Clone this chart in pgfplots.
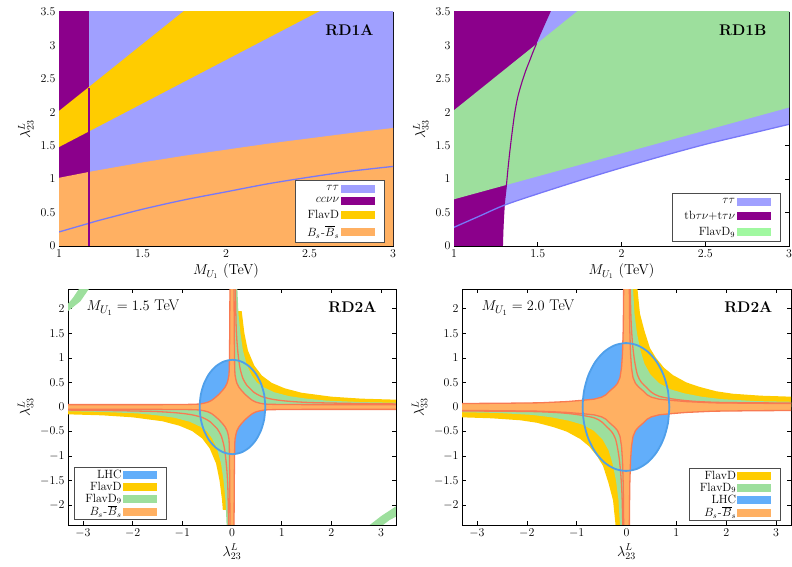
\documentclass[border=0pt]{standalone}
\usepackage{pgfplots}
\pgfplotsset{compat=1.18}
\definecolor{ttblue}{HTML}{A0A0FF}
\definecolor{ttline}{HTML}{7878F8}
\definecolor{ccpurple}{HTML}{8B008B}
\definecolor{flavd}{HTML}{FFCC00}
\definecolor{bsorange}{HTML}{FFB062}
\definecolor{bsline}{HTML}{F87A52}
\definecolor{greennine}{HTML}{9DDF9D}
\definecolor{greenleg}{HTML}{A0F8A0}
\definecolor{lhcblue}{HTML}{62AEFA}
\definecolor{lhcline}{HTML}{4F9FEA}
\newcommand{\legbox}[1]{\addlegendimage{legend image code/.code={\fill[#1] (0bp,-3.5bp) rectangle (33bp,3.5bp);}}}
\newcommand{\BsBs}{$B_s$\kern0.6pt-\kern0.3pt$\overline{B}_s$}
\pgfplotsset{
  panel/.style={scale only axis, anchor=south west, tick align=inside,
    major tick length=4bp, axis line style={line width=0.7bp},
    every tick/.append style={line width=0.6bp, black},
    tick label style={font=\fontsize{13}{15}\selectfont},
    label style={font=\fontsize{14.5}{17}\selectfont},
    legend plot pos=right, legend cell align=right,
    legend style={draw=black!70, line width=0.6bp, font=\fontsize{12}{13}\selectfont,
      fill=white, inner xsep=10bp, inner ysep=3bp, row sep=2bp}},
  smalleg/.style={legend style={row sep=0bp, inner ysep=1.5bp, inner xsep=10bp,
      nodes={inner sep=1bp, text depth=0.15em}, font=\fontsize{12}{12}\selectfont}},
}
\begin{document}
\begin{tikzpicture}
\useasboundingbox (0,0) rectangle (792bp,567bp);
% ---------------- top left RD1A
\begin{axis}[panel, at={(59bp,321bp)}, width=334bp, height=234bp,
  xmin=1, xmax=3, ymin=0, ymax=3.5,
  xtick={1,1.5,2,2.5,3}, ytick={0,0.5,1,1.5,2,2.5,3,3.5},
  xlabel={$M_{U_1}$ (TeV)}, ylabel={$\lambda^L_{23}$},
  legend style={at={(1,0)}, anchor=south east, xshift=-8bp, yshift=3bp}]
\addplot[draw=none, fill=ttblue, forget plot] coordinates {(0.9,-0.1) (3.1,-0.1) (3.1,3.6) (0.9,3.6)};
\addplot[draw=none, fill=ccpurple, forget plot] coordinates {(0.9,-0.1) (1.18,-0.1) (1.18,3.6) (0.9,3.6)};
\addplot[draw=none, fill=flavd, forget plot] coordinates {(0.9,1.35) (1,1.48) (2.55,3.5) (2.627,3.6) (1.79,3.6) (1.74,3.5) (1,2.02) (0.9,1.82)};
\addplot[draw=none, fill=bsorange, forget plot] coordinates {(0.9,-0.1) (0.9,0.97) (1,1.02) (1.18,1.108) (1.25,1.14) (1.5,1.25) (1.75,1.35) (2,1.44) (2.25,1.53) (2.5,1.61) (2.75,1.69) (3,1.765) (3.1,1.79) (3.1,-0.1)};
\addplot[ttline, line width=1.3bp, smooth, forget plot] coordinates {(1,0.21) (1.18,0.34) (1.25,0.39) (1.5,0.55) (1.75,0.69) (2,0.81) (2.25,0.93) (2.5,1.03) (2.75,1.12) (3,1.19)};
\addplot[ccpurple, line width=1.2bp, forget plot] coordinates {(1.18,-0.1) (1.18,2.37)};
\legbox{ttblue}\addlegendentry{$\tau\tau$}
\legbox{ccpurple}\addlegendentry{$cc\nu\nu$}
\legbox{flavd}\addlegendentry{FlavD}
\legbox{bsorange}\addlegendentry{\BsBs}
\node[anchor=base east, font=\bfseries\fontsize{15.5}{17}\selectfont] at (rel axis cs:0.952,0.90) {RD1A};
\end{axis}
% ---------------- top right RD1B
\begin{axis}[panel, at={(454bp,321bp)}, width=335bp, height=234bp,
  xmin=1, xmax=3, ymin=0, ymax=3.5,
  xtick={1,1.5,2,2.5,3}, ytick={0,0.5,1,1.5,2,2.5,3,3.5},
  xlabel={$M_{U_1}$ (TeV)}, ylabel={$\lambda^L_{33}$},
  legend style={at={(1,0)}, anchor=south east, xshift=-8bp, yshift=4bp}]
\addplot[draw=none, fill=ttblue, forget plot] coordinates {(0.9,0.17) (1,0.28) (1.15,0.445) (1.3,0.61) (1.5,0.78) (1.75,0.98) (2,1.17) (2.25,1.35) (2.5,1.52) (2.75,1.67) (3,1.82) (3.1,1.88) (3.1,3.6) (0.9,3.6)};
\addplot[draw=none, fill=ccpurple, forget plot] coordinates {(0.9,-0.1) (1.288,-0.1) (1.289,0) (1.293,0.3) (1.30,0.61) (1.306,0.76) (1.313,0.91) (1.322,1.15) (1.334,1.43) (1.347,1.7) (1.362,1.98) (1.38,2.22) (1.403,2.43) (1.428,2.62) (1.453,2.78) (1.473,2.91) (1.493,3.03) (1.535,3.27) (1.576,3.5) (1.595,3.6) (0.9,3.6)};
\addplot[draw=none, fill=greennine, forget plot] coordinates {(0.9,0.63) (3.1,2.14) (3.1,3.6) (1.78,3.6) (0.9,1.83)};
\addplot[ccpurple, line width=1.1bp, smooth, forget plot] coordinates {(1.288,-0.1) (1.289,0) (1.293,0.3) (1.30,0.61) (1.306,0.76) (1.313,0.91) (1.322,1.15) (1.334,1.43) (1.347,1.7) (1.362,1.98) (1.38,2.22) (1.403,2.43) (1.428,2.62) (1.453,2.78) (1.473,2.91) (1.493,3.03)};
\addplot[ttline, line width=1.3bp, smooth, forget plot] coordinates {(1,0.28) (1.15,0.445) (1.3,0.61) (1.5,0.78) (1.75,0.98) (2,1.17) (2.25,1.35) (2.5,1.52) (2.75,1.67) (3,1.82)};
\legbox{ttblue}\addlegendentry{$\tau\tau$}
\legbox{ccpurple}\addlegendentry{tb$\tau\nu$+t$\tau\nu$}
\legbox{greenleg}\addlegendentry{FlavD$_9$}
\node[anchor=base east, font=\bfseries\fontsize{15.5}{17}\selectfont] at (rel axis cs:0.943,0.90) {RD1B};
\end{axis}
% ---------------- bottom left RD2A, M=1.5
\begin{axis}[panel, smalleg, at={(68bp,42bp)}, width=328bp, height=236bp,
  xmin=-3.3, xmax=3.3, ymin=-2.4, ymax=2.4,
  xtick={-3,-2,-1,0,1,2,3}, ytick={-2,-1.5,-1,-0.5,0,0.5,1,1.5,2},
  xlabel={$\lambda^L_{23}$}, ylabel={$\lambda^L_{33}$},
  legend style={at={(0,0)}, anchor=south west, xshift=6bp, yshift=5bp}]
\addplot[draw=none, fill=lhcblue, forget plot] coordinates {(0.67,0) (0.648,0.248) (0.582,0.48) (0.477,0.679) (0.34,0.831) (0.181,0.927) (0.01,0.96) (-0.161,0.927) (-0.32,0.831) (-0.457,0.679) (-0.562,0.48) (-0.628,0.248) (-0.65,0) (-0.628,-0.248) (-0.562,-0.48) (-0.457,-0.679) (-0.32,-0.831) (-0.161,-0.927) (0.01,-0.96) (0.181,-0.927) (0.34,-0.831) (0.477,-0.679) (0.582,-0.48) (0.648,-0.248) (0.67,0)};
\addplot[draw=none, fill=flavd, forget plot] coordinates {(0,0) (0,1.95) (0.195,1.95) (0.25,1.5) (0.32,1.15) (0.45,0.84) (0.6,0.64) (0.8,0.49) (1.06,0.38) (1.4,0.29) (2.0,0.21) (2.6,0.17) (3.6,0.14) (3.6,0)};
\addplot[draw=none, fill=flavd, forget plot] coordinates {(0,0) (0,-2.09) (-0.185,-2.09) (-0.2,-1.9) (-0.25,-1.5) (-0.32,-1.15) (-0.45,-0.84) (-0.6,-0.64) (-0.8,-0.49) (-1.06,-0.38) (-1.4,-0.29) (-2.0,-0.21) (-2.6,-0.17) (-3.6,-0.14) (-3.6,0)};
\addplot[draw=none, fill=greennine, forget plot] coordinates {(0,0) (0,2.6) (0.1,2.6) (0.13,1.9) (0.17,1.5) (0.22,1.15) (0.3,0.85) (0.4,0.64) (0.5,0.5) (0.64,0.4) (0.85,0.3) (1.15,0.22) (1.5,0.17) (1.9,0.13) (2.6,0.1) (3.6,0.08) (3.6,0)};
\addplot[draw=none, fill=greennine, forget plot] coordinates {(0,0) (0,-2.6) (-0.1,-2.6) (-0.13,-1.9) (-0.17,-1.5) (-0.22,-1.15) (-0.3,-0.85) (-0.4,-0.64) (-0.5,-0.5) (-0.64,-0.4) (-0.85,-0.3) (-1.15,-0.22) (-1.5,-0.17) (-1.9,-0.13) (-2.6,-0.1) (-3.6,-0.08) (-3.6,0)};
\addplot[draw=none, fill=greennine, forget plot] coordinates {(-3.4,2.02) (-3.3,2.10) (-3.2,2.22) (-3.08,2.4) (-3.02,2.5) (-2.82,2.5) (-2.88,2.4) (-3.05,2.15) (-3.3,1.95) (-3.4,1.88)};
\addplot[draw=none, fill=greennine, forget plot] coordinates {(3.0,-2.5) (3.04,-2.4) (3.17,-2.3) (3.3,-2.23) (3.4,-2.18) (3.4,-1.97) (3.3,-2.02) (3.0,-2.22) (2.77,-2.4) (2.68,-2.5)};
\addplot[fill=bsorange, draw=bsline, line width=1.3bp, forget plot] coordinates {
(0.04,2.6) (0.045,1.6) (0.05,1.1) (0.054,0.8) (0.06,0.66) (0.08,0.55) (0.1,0.48) (0.135,0.41) (0.18,0.35) (0.26,0.26) (0.35,0.18) (0.41,0.135) (0.48,0.1) (0.55,0.08) (0.66,0.06) (0.8,0.054) (1.1,0.05) (1.6,0.048) (2.6,0.048) (3.6,0.048)
(3.6,-0.048) (2.6,-0.048) (1.6,-0.048) (1.1,-0.05) (0.8,-0.054) (0.66,-0.06) (0.55,-0.08) (0.48,-0.1) (0.41,-0.135) (0.35,-0.18) (0.26,-0.26) (0.18,-0.35) (0.135,-0.41) (0.1,-0.48) (0.08,-0.55) (0.06,-0.66) (0.054,-0.8) (0.05,-1.1) (0.045,-1.6) (0.04,-2.6)
(-0.04,-2.6) (-0.045,-1.6) (-0.05,-1.1) (-0.054,-0.8) (-0.06,-0.66) (-0.08,-0.55) (-0.1,-0.48) (-0.135,-0.41) (-0.18,-0.35) (-0.26,-0.26) (-0.35,-0.18) (-0.41,-0.135) (-0.48,-0.1) (-0.55,-0.08) (-0.66,-0.06) (-0.8,-0.054) (-1.1,-0.05) (-1.6,-0.048) (-2.6,-0.048) (-3.6,-0.048)
(-3.6,0.048) (-2.6,0.048) (-1.6,0.048) (-1.1,0.05) (-0.8,0.054) (-0.66,0.06) (-0.55,0.08) (-0.48,0.1) (-0.41,0.135) (-0.35,0.18) (-0.26,0.26) (-0.18,0.35) (-0.135,0.41) (-0.1,0.48) (-0.08,0.55) (-0.06,0.66) (-0.054,0.8) (-0.05,1.1) (-0.045,1.6) (-0.04,2.6)};
\addplot[draw=bsline, line width=1.3bp, smooth, forget plot] coordinates {(0.065,2.6) (0.085,1.6) (0.12,1.1) (0.16,0.8) (0.22,0.58) (0.3,0.44) (0.37,0.37) (0.44,0.3) (0.58,0.22) (0.8,0.16) (1.1,0.12) (1.6,0.09) (2.6,0.07) (3.6,0.06)};
\addplot[draw=bsline, line width=1.3bp, smooth, forget plot] coordinates {(-0.065,-2.6) (-0.085,-1.6) (-0.12,-1.1) (-0.16,-0.8) (-0.22,-0.58) (-0.3,-0.44) (-0.37,-0.37) (-0.44,-0.3) (-0.58,-0.22) (-0.8,-0.16) (-1.1,-0.12) (-1.6,-0.09) (-2.6,-0.07) (-3.6,-0.06)};
\addplot[draw=lhcline, line width=1.8bp, smooth, forget plot] coordinates {(0.67,0) (0.648,0.248) (0.582,0.48) (0.477,0.679) (0.34,0.831) (0.181,0.927) (0.01,0.96) (-0.161,0.927) (-0.32,0.831) (-0.457,0.679) (-0.562,0.48) (-0.628,0.248) (-0.65,0) (-0.628,-0.248) (-0.562,-0.48) (-0.457,-0.679) (-0.32,-0.831) (-0.161,-0.927) (0.01,-0.96) (0.181,-0.927) (0.34,-0.831) (0.477,-0.679) (0.582,-0.48) (0.648,-0.248) (0.67,0)};
\legbox{lhcblue}\addlegendentry{LHC}
\legbox{flavd}\addlegendentry{FlavD}
\legbox{greennine}\addlegendentry{FlavD$_9$}
\legbox{bsorange}\addlegendentry{\BsBs}
\node[anchor=base west, font=\fontsize{15.5}{17}\selectfont] at (rel axis cs:0.046,0.907) {$M_{U_1} = 1.5$ TeV};
\node[anchor=base east, font=\bfseries\fontsize{15.5}{17}\selectfont] at (rel axis cs:0.951,0.90) {RD2A};
\end{axis}
% ---------------- bottom right RD2A, M=2.0
\begin{axis}[panel, smalleg, at={(462bp,42bp)}, width=329bp, height=236bp,
  xmin=-3.3, xmax=3.3, ymin=-2.4, ymax=2.4,
  xtick={-3,-2,-1,0,1,2,3}, ytick={-2,-1.5,-1,-0.5,0,0.5,1,1.5,2},
  xlabel={$\lambda^L_{23}$}, ylabel={$\lambda^L_{33}$},
  legend style={at={(1,0)}, anchor=south east, xshift=-10bp, yshift=4bp}]
\addplot[draw=none, fill=lhcblue, forget plot] coordinates {(0.86,0) (0.83,0.337) (0.743,0.65) (0.605,0.919) (0.425,1.126) (0.215,1.256) (-0.01,1.3) (-0.235,1.256) (-0.445,1.126) (-0.625,0.919) (-0.763,0.65) (-0.85,0.337) (-0.88,0) (-0.85,-0.337) (-0.763,-0.65) (-0.625,-0.919) (-0.445,-1.126) (-0.235,-1.256) (-0.01,-1.3) (0.215,-1.256) (0.425,-1.126) (0.605,-0.919) (0.743,-0.65) (0.83,-0.337) (0.86,0)};
\addplot[draw=none, fill=flavd, forget plot] coordinates {(0,0) (0,2.6) (0.2,2.6) (0.27,1.9) (0.36,1.55) (0.47,1.2) (0.59,1.0) (0.75,0.8) (0.93,0.65) (1.2,0.5) (1.46,0.41) (1.8,0.32) (2.13,0.27) (2.7,0.23) (3.6,0.2) (3.6,0)};
\addplot[draw=none, fill=flavd, forget plot] coordinates {(0,0) (0,-2.6) (-0.2,-2.6) (-0.27,-1.9) (-0.36,-1.55) (-0.47,-1.2) (-0.59,-1.0) (-0.75,-0.8) (-0.93,-0.65) (-1.2,-0.5) (-1.46,-0.41) (-1.8,-0.32) (-2.13,-0.27) (-2.7,-0.23) (-3.6,-0.2) (-3.6,0)};
\addplot[draw=none, fill=greennine, forget plot] coordinates {(0,0) (0,2.6) (0.12,2.6) (0.16,1.9) (0.21,1.5) (0.28,1.15) (0.36,0.88) (0.48,0.66) (0.57,0.57) (0.66,0.48) (0.88,0.36) (1.15,0.28) (1.5,0.21) (1.9,0.16) (2.6,0.12) (3.6,0.1) (3.6,0)};
\addplot[draw=none, fill=greennine, forget plot] coordinates {(0,0) (0,-2.6) (-0.12,-2.6) (-0.16,-1.9) (-0.21,-1.5) (-0.28,-1.15) (-0.36,-0.88) (-0.48,-0.66) (-0.57,-0.57) (-0.66,-0.48) (-0.88,-0.36) (-1.15,-0.28) (-1.5,-0.21) (-1.9,-0.16) (-2.6,-0.12) (-3.6,-0.1) (-3.6,0)};
\addplot[fill=bsorange, draw=bsline, line width=1.3bp, forget plot] coordinates {
(0.055,2.6) (0.065,1.6) (0.08,1.1) (0.1,0.8) (0.13,0.6) (0.18,0.48) (0.24,0.41) (0.33,0.33) (0.41,0.25) (0.5,0.2) (0.65,0.16) (0.84,0.14) (1.2,0.11) (1.74,0.085) (2.6,0.075) (3.6,0.07)
(3.6,-0.07) (2.6,-0.075) (1.74,-0.085) (1.2,-0.11) (0.84,-0.14) (0.65,-0.16) (0.5,-0.2) (0.41,-0.25) (0.33,-0.33) (0.24,-0.41) (0.18,-0.48) (0.13,-0.6) (0.1,-0.8) (0.08,-1.1) (0.065,-1.6) (0.055,-2.6)
(-0.055,-2.6) (-0.065,-1.6) (-0.08,-1.1) (-0.1,-0.8) (-0.13,-0.6) (-0.18,-0.48) (-0.24,-0.41) (-0.33,-0.33) (-0.41,-0.25) (-0.5,-0.2) (-0.65,-0.16) (-0.84,-0.14) (-1.2,-0.11) (-1.74,-0.085) (-2.6,-0.075) (-3.6,-0.07)
(-3.6,0.07) (-2.6,0.075) (-1.74,0.085) (-1.2,0.11) (-0.84,0.14) (-0.65,0.16) (-0.5,0.2) (-0.41,0.25) (-0.33,0.33) (-0.24,0.41) (-0.18,0.48) (-0.13,0.6) (-0.1,0.8) (-0.08,1.1) (-0.065,1.6) (-0.055,2.6)};
\addplot[draw=bsline, line width=1.3bp, smooth, forget plot] coordinates {(0.07,2.6) (0.09,1.8) (0.12,1.3) (0.16,0.95) (0.22,0.65) (0.3,0.5) (0.4,0.4) (0.5,0.3) (0.65,0.22) (0.95,0.16) (1.3,0.12) (1.8,0.095) (2.6,0.085) (3.6,0.08)};
\addplot[draw=bsline, line width=1.3bp, smooth, forget plot] coordinates {(-0.07,-2.6) (-0.09,-1.8) (-0.12,-1.3) (-0.16,-0.95) (-0.22,-0.65) (-0.3,-0.5) (-0.4,-0.4) (-0.5,-0.3) (-0.65,-0.22) (-0.95,-0.16) (-1.3,-0.12) (-1.8,-0.095) (-2.6,-0.085) (-3.6,-0.08)};
\addplot[draw=lhcline, line width=1.8bp, smooth, forget plot] coordinates {(0.86,0) (0.83,0.337) (0.743,0.65) (0.605,0.919) (0.425,1.126) (0.215,1.256) (-0.01,1.3) (-0.235,1.256) (-0.445,1.126) (-0.625,0.919) (-0.763,0.65) (-0.85,0.337) (-0.88,0) (-0.85,-0.337) (-0.763,-0.65) (-0.625,-0.919) (-0.445,-1.126) (-0.235,-1.256) (-0.01,-1.3) (0.215,-1.256) (0.425,-1.126) (0.605,-0.919) (0.743,-0.65) (0.83,-0.337) (0.86,0)};
\legbox{flavd}\addlegendentry{FlavD}
\legbox{greennine}\addlegendentry{FlavD$_9$}
\legbox{lhcblue}\addlegendentry{LHC}
\legbox{bsorange}\addlegendentry{\BsBs}
\node[anchor=base west, font=\fontsize{15.5}{17}\selectfont] at (rel axis cs:0.049,0.907) {$M_{U_1} = 2.0$ TeV};
\node[anchor=base east, font=\bfseries\fontsize{15.5}{17}\selectfont] at (rel axis cs:0.954,0.90) {RD2A};
\end{axis}
\end{tikzpicture}
\end{document}
